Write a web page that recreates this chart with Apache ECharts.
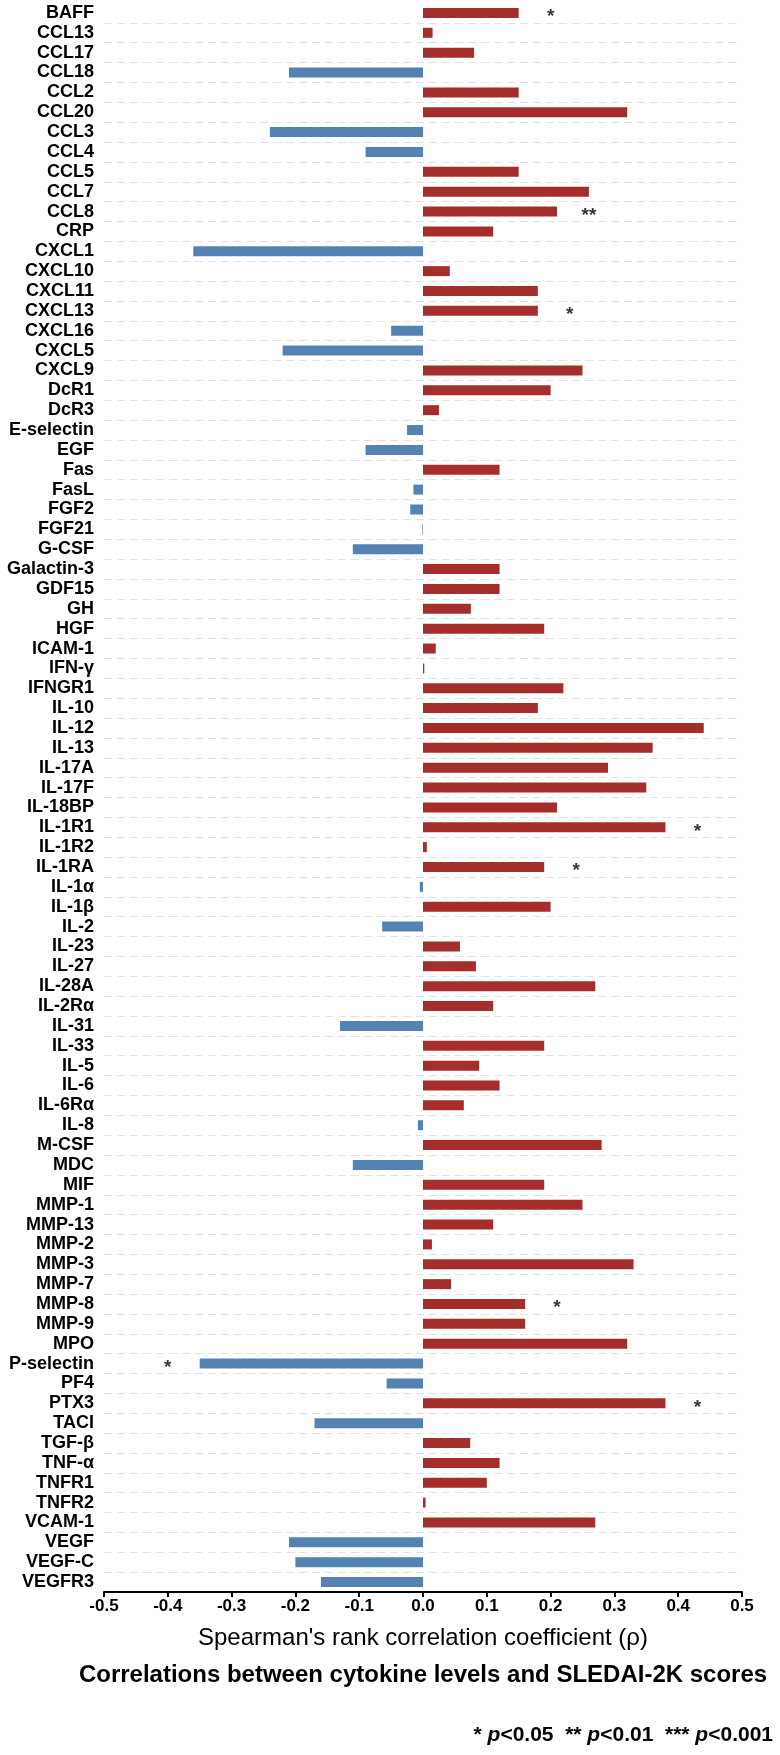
<!DOCTYPE html>
<html>
<head>
<meta charset="utf-8">
<script src="https://cdn.jsdelivr.net/npm/echarts@6/dist/echarts.min.js"></script>
<style>
html,body{margin:0;padding:0;background:#fff;}
#chart{width:780px;height:1755px;}
</style>
</head>
<body>
<div id="chart"></div>
<script>
var categories = ['BAFF','CCL13','CCL17','CCL18','CCL2','CCL20','CCL3','CCL4','CCL5','CCL7',
  'CCL8','CRP','CXCL1','CXCL10','CXCL11','CXCL13','CXCL16','CXCL5','CXCL9','DcR1',
  'DcR3','E-selectin','EGF','Fas','FasL','FGF2','FGF21','G-CSF','Galactin-3','GDF15',
  'GH','HGF','ICAM-1','IFN-γ','IFNGR1','IL-10','IL-12','IL-13','IL-17A','IL-17F',
  'IL-18BP','IL-1R1','IL-1R2','IL-1RA','IL-1α','IL-1β','IL-2','IL-23','IL-27','IL-28A',
  'IL-2Rα','IL-31','IL-33','IL-5','IL-6','IL-6Rα','IL-8','M-CSF','MDC','MIF',
  'MMP-1','MMP-13','MMP-2','MMP-3','MMP-7','MMP-8','MMP-9','MPO','P-selectin','PF4',
  'PTX3','TACI','TGF-β','TNF-α','TNFR1','TNFR2','VCAM-1','VEGF','VEGF-C','VEGFR3'];

var values = [0.15,0.015,0.08,-0.21,0.15,0.32,-0.24,-0.09,0.15,0.26,
  0.21,0.11,-0.36,0.042,0.18,0.18,-0.05,-0.22,0.25,0.20,
  0.025,-0.025,-0.09,0.12,-0.015,-0.02,-0.001,-0.11,0.12,0.12,
  0.075,0.19,0.02,0.002,0.22,0.18,0.44,0.36,0.29,0.35,
  0.21,0.38,0.006,0.19,-0.005,0.20,-0.064,0.058,0.083,0.27,
  0.11,-0.13,0.19,0.088,0.12,0.064,-0.008,0.28,-0.11,0.19,
  0.25,0.11,0.014,0.33,0.044,0.16,0.16,0.32,-0.35,-0.057,
  0.38,-0.17,0.074,0.12,0.10,0.004,0.27,-0.21,-0.20,-0.16];

var sigNames = ['BAFF','CCL8','CXCL13','IL-1R1','IL-1RA','MMP-8','P-selectin','PTX3'];
var sigMarks = ['*','**','*','*','*','*','*','*'];

var xTicks = [-0.5,-0.4,-0.3,-0.2,-0.1,0.0,0.1,0.2,0.3,0.4,0.5];

var RED = '#A52E2C', BLUE = '#5482B2';
var STAR_GAP = 0.05;
var FONT = '"Liberation Sans", Arial, Helvetica, sans-serif';

var barData = values.map(function(v){
  return {value: v, itemStyle: {color: v < 0 ? BLUE : RED}};
});
var starData = sigNames.map(function(n, i){
  var v = values[categories.indexOf(n)];
  return {value: [v + (v < 0 ? -STAR_GAP : STAR_GAP), n], mark: sigMarks[i]};
});

var chart = echarts.init(document.getElementById('chart'), null, {renderer: 'canvas'});
chart.setOption({
  animation: false,
  backgroundColor: '#fff',
  textStyle: {fontFamily: FONT},
  grid: {left: 104, right: 38, top: 3, bottom: 163, containLabel: false},
  title: [{
    text: 'Correlations between cytokine levels and SLEDAI-2K scores',
    left: 423, top: 1663, textAlign: 'center', padding: 0,
    textStyle: {fontFamily: FONT, fontSize: 24, fontWeight: 'bold', color: '#000'}
  }, {
    text: '{b|* }{i|p}{b|<0.05  ** }{i|p}{b|<0.01  *** }{i|p}{b|<0.001}',
    right: 7, top: 1725, padding: 0,
    textStyle: {
      rich: {
        b: {fontFamily: FONT, fontSize: 21, fontWeight: 'bold', color: '#000'},
        i: {fontFamily: FONT, fontSize: 21, fontWeight: 'bold', fontStyle: 'italic', color: '#000'}
      }
    }
  }],
  xAxis: {
    type: 'value', min: -0.5, max: 0.5, interval: 0.1,
    name: "Spearman's rank correlation coefficient (\u03c1)",
    nameLocation: 'middle', nameGap: 34,
    nameTextStyle: {fontFamily: FONT, fontSize: 24, color: '#000'},
    axisLine: {show: true, onZero: false, lineStyle: {color: '#000', width: 2}},
    axisTick: {show: true, length: 5, lineStyle: {color: '#000', width: 2}},
    axisLabel: {
      margin: 6, color: '#000', fontFamily: FONT, fontSize: 17, fontWeight: 'bold',
      formatter: function(v){ return (Math.abs(v) < 1e-9 ? 0 : v).toFixed(1); }
    },
    splitLine: {show: false}
  },
  yAxis: {
    type: 'category', inverse: true, data: categories,
    axisLine: {show: false}, axisTick: {show: false},
    axisLabel: {margin: 10, color: '#000', fontFamily: FONT, fontSize: 18, fontWeight: 'bold', interval: 0},
    splitLine: {
      show: true,
      interval: function(index){ return index !== 0; },
      lineStyle: {color: '#e2e2e2', width: 1, type: [8, 5]}
    }
  },
  series: [{
    type: 'bar', data: barData, barWidth: 10, silent: true
  }, {
    type: 'scatter', data: starData, symbolSize: 1, silent: true,
    itemStyle: {color: 'rgba(0,0,0,0)'},
    label: {
      show: true, position: 'inside', offset: [0, 4],
      formatter: function(p){ return p.data.mark; },
      color: '#000', fontFamily: FONT, fontSize: 19, fontWeight: 'bold'
    }
  }]
});
</script>
</body>
</html>
